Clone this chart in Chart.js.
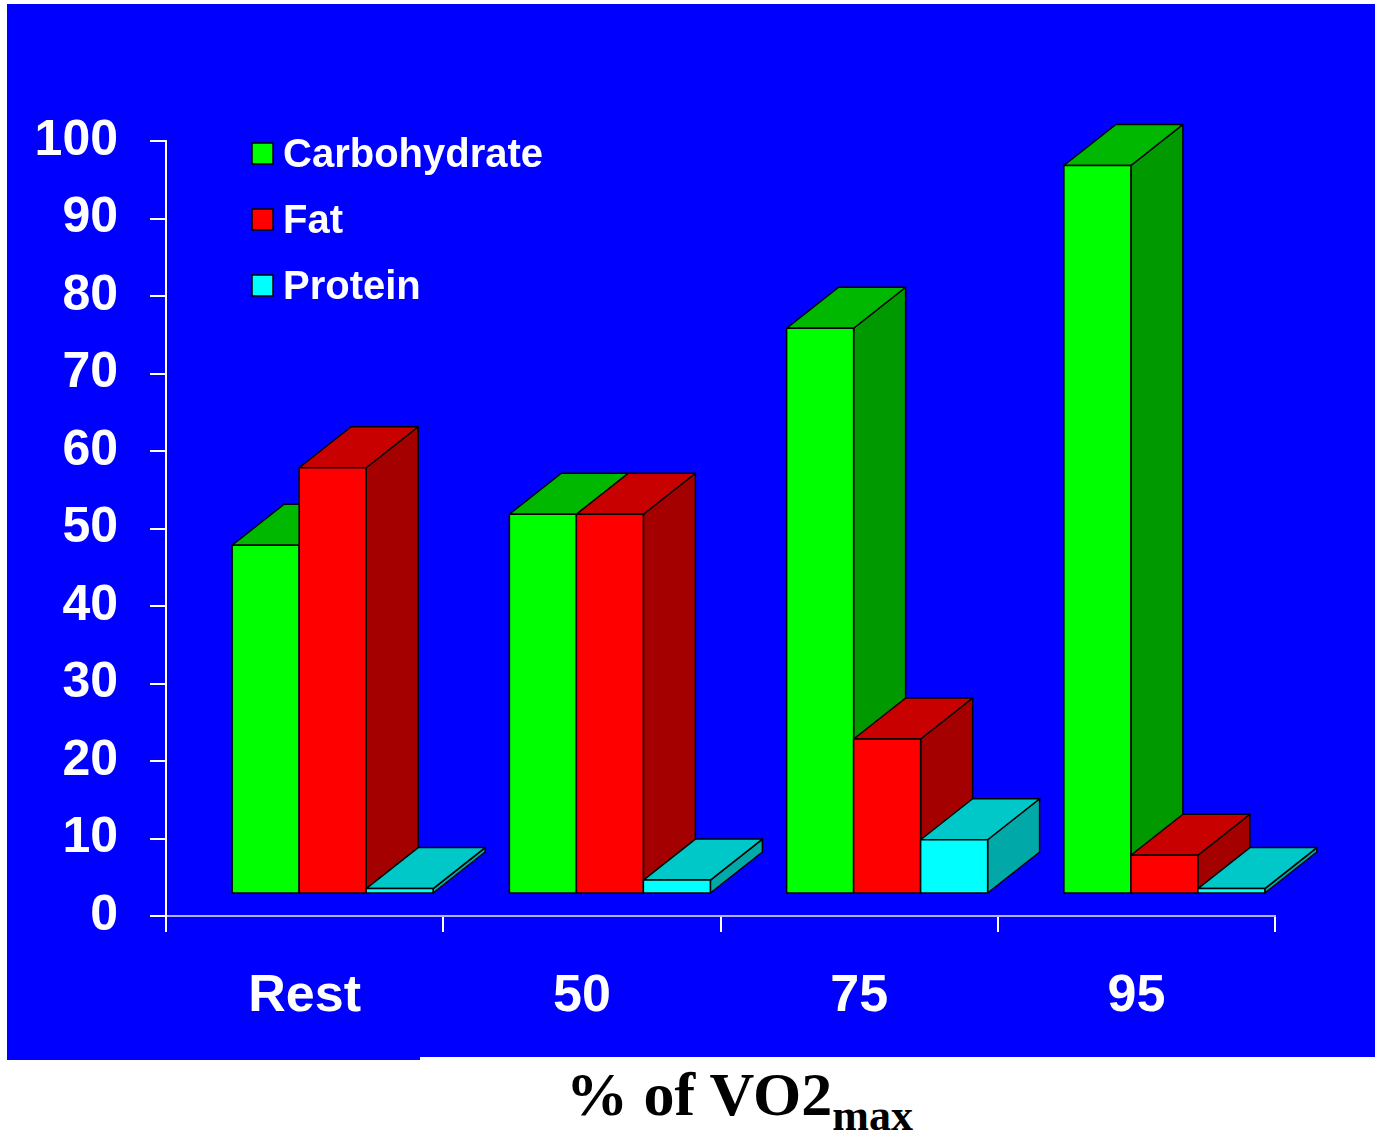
<!DOCTYPE html>
<html>
<head>
<meta charset="utf-8">
<script src="https://cdn.jsdelivr.net/npm/chart.js@4.4.1/dist/chart.umd.min.js"></script>
<style>
  html, body { margin: 0; padding: 0; background: #fff; overflow: hidden; }
  #page { position: relative; width: 1375px; height: 1133px; }
  .blue { position: absolute; background: #0000ff; }
  #wrap { position: absolute; left: 0; top: 0; width: 1375px; height: 1060px; }
  #xtitle {
    position: absolute; left: 566px; top: 1063px;
    font: bold 62px "Liberation Serif", "Times New Roman", serif;
    line-height: 62px; color: #000; white-space: nowrap;
  }
  #xtitle span { font-size: 44px; position: relative; top: 15px; }
</style>
</head>
<body>
<div id="page">
  <div class="blue" style="left:7px;top:4px;width:1368px;height:1053px;"></div>
  <div class="blue" style="left:7px;top:1057px;width:413px;height:3px;"></div>
  <div id="wrap"><canvas id="myChart"></canvas></div>
  <div id="xtitle">% of VO2<span>max</span></div>
</div>
<script>
// values (% of energy)
const categories = ["Rest", "50", "75", "95"];
const carbohydrate = [45, 49, 73, 94];
const fat = [55, 49, 20, 5];
const protein = [0.7, 1.8, 7, 0.7];
const seriesNames = ["Carbohydrate", "Fat", "Protein"];

// face colours: front, top, side
const faceColors = [
    ["#00ff00", "#00b800", "#009a00"],
    ["#ff0000", "#c80000", "#a40000"],
    ["#00ffff", "#00c8c8", "#00a8a8"]
];

const FONT = "Arial, 'Liberation Sans', sans-serif";
const shiftX = 28, shiftY = -22;   // bars sit a little behind the axis plane
const depthX = 52, depthY = -41;   // 3d depth of each box

function drawBox(ctx, left, right, top, bottom, cols)
{
    ctx.lineWidth = 1.5;
    ctx.strokeStyle = "#000";
    ctx.lineJoin = "round";
    // side
    ctx.beginPath();
    ctx.moveTo(right, bottom);
    ctx.lineTo(right + depthX, bottom + depthY);
    ctx.lineTo(right + depthX, top + depthY);
    ctx.lineTo(right, top);
    ctx.closePath();
    ctx.fillStyle = cols[2];
    ctx.fill();
    ctx.stroke();
    // top
    ctx.beginPath();
    ctx.moveTo(left, top);
    ctx.lineTo(left + depthX, top + depthY);
    ctx.lineTo(right + depthX, top + depthY);
    ctx.lineTo(right, top);
    ctx.closePath();
    ctx.fillStyle = cols[1];
    ctx.fill();
    ctx.stroke();
    // front
    ctx.fillStyle = cols[0];
    ctx.fillRect(left, top, right - left, bottom - top);
    ctx.strokeRect(left, top, right - left, bottom - top);
}

const bars3d = {
    id: "bars3d",
    afterDatasetsDraw(chart)
    {
        const ctx = chart.ctx;
        ctx.save();
        for (let c = 0; c < categories.length; c++)
        {
            for (let d = 0; d < chart.data.datasets.length; d++)
            {
                const el = chart.getDatasetMeta(d).data[c];
                const p = el.getProps(["x", "y", "base", "width"], true);
                drawBox(ctx,
                    p.x - p.width / 2 + shiftX,
                    p.x + p.width / 2 + shiftX,
                    p.y + shiftY,
                    p.base + shiftY,
                    faceColors[d]);
            }
        }
        ctx.restore();
    },
    afterDraw(chart)
    { // legend
        const ctx = chart.ctx;
        ctx.save();
        ctx.font = "bold 40px " + FONT;
        ctx.textBaseline = "alphabetic";
        chart.data.datasets.forEach((ds, i) => {
            const y = 143 + i * 66;
            ctx.fillStyle = faceColors[i][0];
            ctx.fillRect(252, y, 21, 21);
            ctx.lineWidth = 1.5;
            ctx.strokeStyle = "#000";
            ctx.strokeRect(252, y, 21, 21);
            ctx.fillStyle = "#fff";
            ctx.fillText(ds.label, 283, y + 24);
        });
        ctx.restore();
    }
};

const data = {
    labels: categories,
    datasets: [carbohydrate, fat, protein].map((vals, i) => ({
        label: seriesNames[i],
        data: vals,
        backgroundColor: "rgba(0,0,0,0)",
        borderWidth: 0
    }))
};

const options = {
    animation: false,
    responsive: true,
    maintainAspectRatio: false,
    layout: { padding: { left: 0, right: 100, top: 141, bottom: 0 } },
    plugins: { legend: { display: false }, tooltip: { enabled: false } },
    datasets: { bar: { categoryPercentage: 0.725, barPercentage: 1 } },
    scales: {
        x: {
            afterFit(s) { s.height = 144; },
            grid: { offset: true, drawOnChartArea: false, tickLength: 16, color: "#ffffff", lineWidth: 2 },
            border: { color: "#b0b0ff", width: 2 },
            ticks: { color: "#ffffff", font: { family: FONT, size: 52, weight: "bold" }, padding: 33 }
        },
        y: {
            min: 0,
            max: 100,
            afterFit(s) { s.width = 166; },
            grid: { drawOnChartArea: false, tickLength: 16, color: "#ffffff", lineWidth: 2 },
            border: { color: "#ffffff", width: 2 },
            ticks: { stepSize: 10, color: "#ffffff", font: { family: FONT, size: 50, weight: "bold" }, padding: 32 }
        }
    }
};

const myChart = new Chart(document.getElementById("myChart").getContext("2d"), {
    type: "bar",
    data: data,
    options: options,
    plugins: [bars3d]
});
</script>
</body>
</html>
